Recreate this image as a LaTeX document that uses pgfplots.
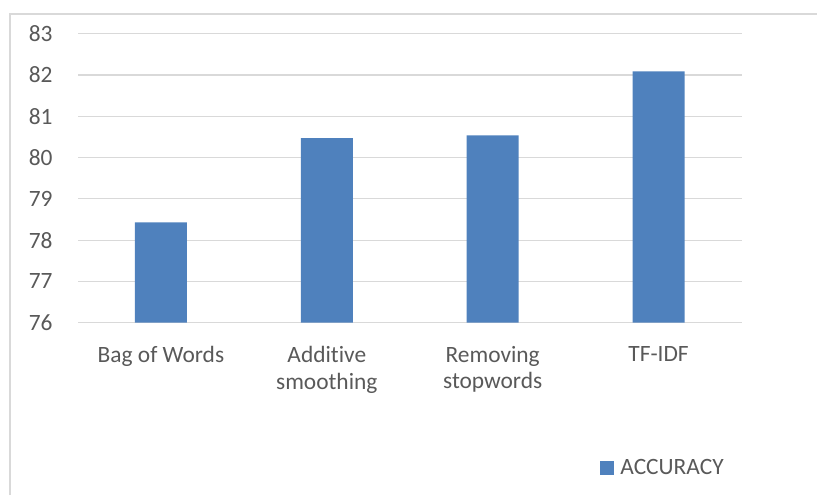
\documentclass[border=0pt]{standalone}
\usepackage{fontspec}
\setmainfont{Carlito}[Ligatures={NoCommon}]
\usepackage{pgfplots}
\pgfplotsset{compat=1.18}
\definecolor{barblue}{HTML}{4F81BD}
\definecolor{gridgray}{HTML}{D9D9D9}
\definecolor{txtgray}{HTML}{595959}
\newcommand{\chartfont}{\fontsize{11.7}{13.35}\selectfont}
\begin{document}
\begin{tikzpicture}
\useasboundingbox (0pt,0pt) rectangle (408.5pt,247.5pt);
\draw[gridgray, line width=0.75pt] (5pt,0pt) -- (5pt,240.5pt) -- (408.5pt,240.5pt);
\begin{axis}[
  at={(39pt,86.15pt)}, anchor=south west,
  scale only axis, width=331.75pt, height=144.5pt,
  xmin=-0.5, xmax=3.5, ymin=76, ymax=83,
  ytick={76,77,78,79,80,81,82,83},
  xtick={0,1,2,3},
  xticklabels={Bag of Words, Additive\\smoothing, Removing\\stopwords, TF-IDF},
  ymajorgrids, grid style={gridgray, line width=0.6pt},
  axis line style={draw=none}, tick style={draw=none}, major tick length=0pt,
  /pgf/number format/assume math mode=true,
  every tick label/.append style={font=\chartfont, text=txtgray},
  y tick label style={anchor=east, inner sep=0pt, xshift=-12.5pt},
  x tick label style={anchor=north, align=center, inner sep=0pt, yshift=-11.5pt},
  legend style={draw=none, fill=none, at={(0.7867,-0.5028)}, anchor=west,
    inner sep=0pt, font=\chartfont, text=txtgray,
    nodes={inner sep=0pt}},
  legend image code/.code={\fill[barblue] (0pt,-3.5pt) rectangle (7pt,3.5pt); \path (10pt,0pt);},
]
\addplot[ybar, bar width=26pt, bar shift=0pt, fill=barblue, draw=none]
  coordinates {(0,78.43) (1,80.47) (2,80.54) (3,82.09)};
\addlegendentry{ACCURACY}
\end{axis}
\end{tikzpicture}
\end{document}
